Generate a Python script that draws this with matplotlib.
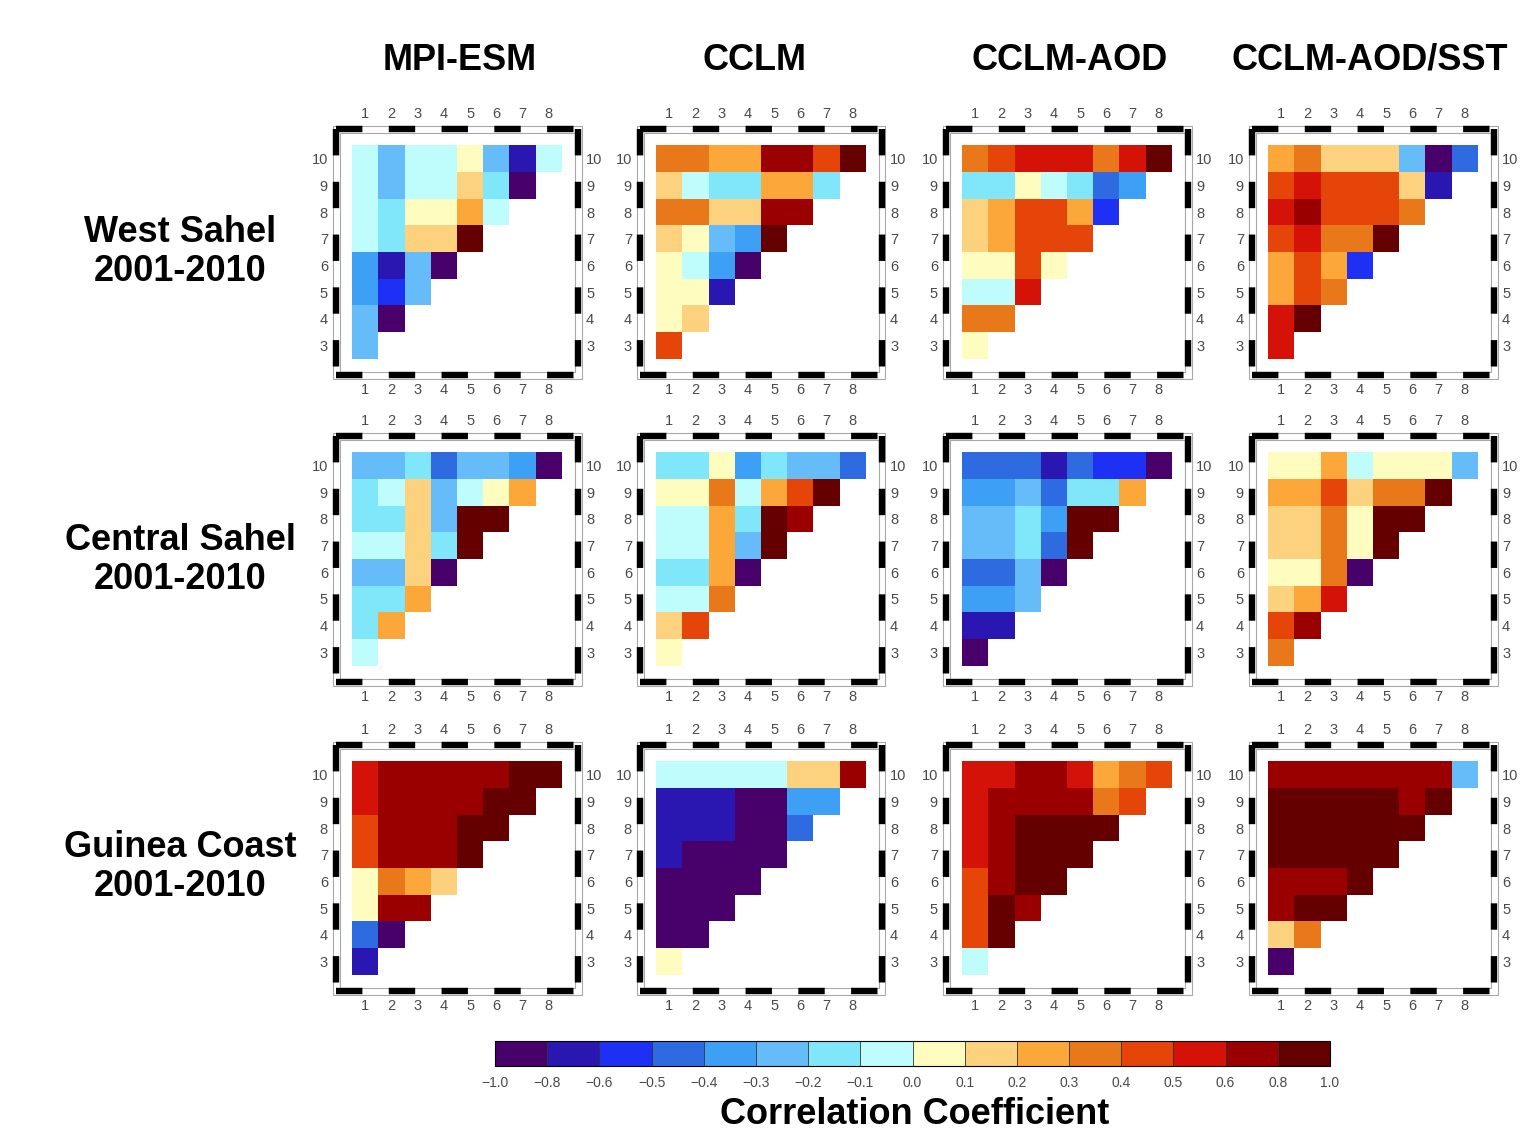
import matplotlib
matplotlib.use('Agg')
import matplotlib.pyplot as plt
import numpy as np
from matplotlib.colors import ListedColormap, BoundaryNorm
from matplotlib.cm import ScalarMappable
from matplotlib.lines import Line2D
from matplotlib.patches import Rectangle

plt.rcParams['font.family'] = ['Liberation Sans', 'DejaVu Sans']
plt.rcParams['lines.scale_dashes'] = False

W, H = 1533, 1143

models = ['MPI-ESM', 'CCLM', 'CCLM-AOD', 'CCLM-AOD/SST']
regions = ['West Sahel\n2001-2010', 'Central Sahel\n2001-2010', 'Guinea Coast\n2001-2010']
start_months = [1, 2, 3, 4, 5, 6, 7, 8]
end_months = [10, 9, 8, 7, 6, 5, 4, 3]   # order of the rows below

bounds = [-1.0, -0.8, -0.6, -0.5, -0.4, -0.3, -0.2, -0.1, 0.0,
          0.1, 0.2, 0.3, 0.4, 0.5, 0.6, 0.8, 1.0]
bound_labels = ['\u22121.0', '\u22120.8', '\u22120.6', '\u22120.5', '\u22120.4', '\u22120.3',
                '\u22120.2', '\u22120.1', '0.0', '0.1', '0.2', '0.3', '0.4', '0.5',
                '0.6', '0.8', '1.0']

# correlation estimates, one list per end month (10 .. 3), start month 1 .. n
ws_mpi = [[-0.05, -0.25, -0.05, -0.05, 0.05, -0.25, -0.7, -0.05],
          [-0.05, -0.25, -0.05, -0.05, 0.15, -0.15, -0.9],
          [-0.05, -0.15, 0.05, 0.05, 0.25, -0.05],
          [-0.05, -0.15, 0.15, 0.15, 0.9],
          [-0.35, -0.7, -0.25, -0.9],
          [-0.35, -0.55, -0.25],
          [-0.25, -0.9],
          [-0.25]]
ws_cclm = [[0.35, 0.35, 0.25, 0.25, 0.7, 0.7, 0.45, 0.9],
           [0.15, -0.05, -0.15, -0.15, 0.25, 0.25, -0.15],
           [0.35, 0.35, 0.15, 0.15, 0.7, 0.7],
           [0.15, 0.05, -0.25, -0.35, 0.9],
           [0.05, -0.05, -0.35, -0.9],
           [0.05, 0.05, -0.7],
           [0.05, 0.15],
           [0.45]]
ws_aod = [[0.35, 0.45, 0.55, 0.55, 0.55, 0.35, 0.55, 0.9],
          [-0.15, -0.15, 0.05, -0.05, -0.15, -0.45, -0.35],
          [0.15, 0.25, 0.45, 0.45, 0.25, -0.55],
          [0.15, 0.25, 0.45, 0.45, 0.45],
          [0.05, 0.05, 0.45, 0.05],
          [-0.05, -0.05, 0.55],
          [0.35, 0.35],
          [0.05]]
ws_sst = [[0.25, 0.35, 0.15, 0.15, 0.15, -0.25, -0.9, -0.45],
          [0.45, 0.55, 0.45, 0.45, 0.45, 0.15, -0.7],
          [0.55, 0.7, 0.45, 0.45, 0.45, 0.35],
          [0.45, 0.55, 0.35, 0.35, 0.9],
          [0.25, 0.45, 0.25, -0.55],
          [0.25, 0.45, 0.35],
          [0.55, 0.9],
          [0.55]]

cs_mpi = [[-0.25, -0.25, -0.15, -0.45, -0.25, -0.25, -0.35, -0.9],
          [-0.15, -0.05, 0.15, -0.25, -0.05, 0.05, 0.25],
          [-0.15, -0.15, 0.15, -0.25, 0.9, 0.9],
          [-0.05, -0.05, 0.15, -0.15, 0.9],
          [-0.25, -0.25, 0.15, -0.9],
          [-0.15, -0.15, 0.25],
          [-0.15, 0.25],
          [-0.05]]
cs_cclm = [[-0.15, -0.15, 0.05, -0.35, -0.15, -0.25, -0.25, -0.45],
           [0.05, 0.05, 0.35, -0.05, 0.25, 0.45, 0.9],
           [-0.05, -0.05, 0.25, -0.15, 0.9, 0.7],
           [-0.05, -0.05, 0.25, -0.25, 0.9],
           [-0.15, -0.15, 0.25, -0.9],
           [-0.05, -0.05, 0.35],
           [0.15, 0.45],
           [0.05]]
cs_aod = [[-0.45, -0.45, -0.45, -0.7, -0.45, -0.55, -0.55, -0.9],
          [-0.35, -0.35, -0.25, -0.45, -0.15, -0.15, 0.25],
          [-0.25, -0.25, -0.15, -0.35, 0.9, 0.9],
          [-0.25, -0.25, -0.15, -0.45, 0.9],
          [-0.45, -0.45, -0.25, -0.9],
          [-0.35, -0.35, -0.25],
          [-0.7, -0.7],
          [-0.9]]
cs_sst = [[0.05, 0.05, 0.25, -0.05, 0.05, 0.05, 0.05, -0.25],
          [0.25, 0.25, 0.45, 0.15, 0.35, 0.35, 0.9],
          [0.15, 0.15, 0.35, 0.05, 0.9, 0.9],
          [0.15, 0.15, 0.35, 0.05, 0.9],
          [0.05, 0.05, 0.35, -0.9],
          [0.15, 0.25, 0.55],
          [0.45, 0.7],
          [0.35]]

gc_mpi = [[0.55, 0.7, 0.7, 0.7, 0.7, 0.7, 0.9, 0.9],
          [0.55, 0.7, 0.7, 0.7, 0.7, 0.9, 0.9],
          [0.45, 0.7, 0.7, 0.7, 0.9, 0.9],
          [0.45, 0.7, 0.7, 0.7, 0.9],
          [0.05, 0.35, 0.25, 0.15],
          [0.05, 0.7, 0.7],
          [-0.45, -0.9],
          [-0.7]]
gc_cclm = [[-0.05, -0.05, -0.05, -0.05, -0.05, 0.15, 0.15, 0.7],
           [-0.7, -0.7, -0.7, -0.9, -0.9, -0.35, -0.35],
           [-0.7, -0.7, -0.7, -0.9, -0.9, -0.45],
           [-0.7, -0.9, -0.9, -0.9, -0.9],
           [-0.9, -0.9, -0.9, -0.9],
           [-0.9, -0.9, -0.9],
           [-0.9, -0.9],
           [0.05]]
gc_aod = [[0.55, 0.55, 0.7, 0.7, 0.55, 0.25, 0.35, 0.45],
          [0.55, 0.7, 0.7, 0.7, 0.7, 0.35, 0.45],
          [0.55, 0.7, 0.9, 0.9, 0.9, 0.9],
          [0.55, 0.7, 0.9, 0.9, 0.9],
          [0.45, 0.7, 0.9, 0.9],
          [0.45, 0.9, 0.7],
          [0.45, 0.9],
          [-0.05]]
gc_sst = [[0.7, 0.7, 0.7, 0.7, 0.7, 0.7, 0.7, -0.25],
          [0.9, 0.9, 0.9, 0.9, 0.9, 0.7, 0.9],
          [0.9, 0.9, 0.9, 0.9, 0.9, 0.9],
          [0.9, 0.9, 0.9, 0.9, 0.9],
          [0.7, 0.7, 0.7, 0.9],
          [0.7, 0.9, 0.9],
          [0.15, 0.35],
          [-0.9]]

panels = [[ws_mpi, ws_cclm, ws_aod, ws_sst],
          [cs_mpi, cs_cclm, cs_aod, cs_sst],
          [gc_mpi, gc_cclm, gc_aod, gc_sst]]

colors = ['#48006a', '#2a16b0', '#1f30f5', '#2f6be0', '#3ea0f5', '#66bcf8',
          '#80e6fa', '#bffcfc', '#fffcc0', '#fdd27e', '#fca73a', '#e8781a',
          '#e54508', '#d41208', '#9a0000', '#640000']
cmap = ListedColormap(colors)
norm = BoundaryNorm(bounds, cmap.N)

fig = plt.figure(figsize=(W / 100, H / 100), dpi=100)


def px_rect(left, top, w, h):
    return [left / W, 1 - (top + h) / H, w / W, h / H]


def fline(x0, y0, x1, y1, **kw):
    fig.add_artist(Line2D([x0 / W, x1 / W], [1 - y0 / H, 1 - y1 / H],
                          transform=fig.transFigure, **kw))


def draw_frame(left, top, w, h):
    # thin grey double outline with thick black dashes over it
    l, r, t, b = left - 3, left + w + 3, top - 3, top + h + 3
    for d in (-3.5, 3.5):
        fig.add_artist(Rectangle(((l - d) / W, 1 - (b + d) / H),
                                 (r - l + 2 * d) / W, (b - t + 2 * d) / H,
                                 transform=fig.transFigure, fill=False,
                                 ec='#a8a8a8', lw=0.8))
    dash = dict(color='black', lw=4.6, linestyle=(0, (19, 19)), dash_capstyle='butt')
    fline(l, t, r, t, **dash)
    fline(l, b, r, b, **dash)
    fline(l, t, l, b, **dash)
    fline(r, t, r, b, **dash)


col_left = [339, 643, 949, 1255]
row_top = [132, 439, 748]
pw, ph = 236, 240

x_edges = np.arange(0.5, 9.0, 1.0)
y_edges = np.arange(10.5, 2.0, -1.0)

for i, row in enumerate(panels):
    for j, vals in enumerate(row):
        ax = fig.add_axes(px_rect(col_left[j], row_top[i], pw, ph))
        grid = np.full((len(end_months), len(start_months)), np.nan)
        for r, rv in enumerate(vals):
            grid[r, :len(rv)] = rv
        ax.pcolormesh(x_edges, y_edges, np.ma.masked_invalid(grid), cmap=cmap, norm=norm)
        ax.set_xlim(0, 9)
        ax.set_ylim(2, 11)
        ax.set_xticks(start_months)
        ax.set_yticks(end_months)
        ax.tick_params(top=True, labeltop=True, right=True, labelright=True,
                       length=0, labelsize=10.5, labelcolor='#4a4a4a', pad=8)
        for s in ax.spines.values():
            s.set_visible(False)
        draw_frame(col_left[j], row_top[i], pw, ph)

# column and row titles
title_x = [460, 755, 1070, 1370]
for j, m in enumerate(models):
    fig.text(title_x[j] / W, 1 - 60 / H, m, ha='center', va='center',
             fontsize=26, fontweight='bold')

label_y = [252, 560, 867]
for i, rg in enumerate(regions):
    fig.text(180 / W, 1 - label_y[i] / H, rg, ha='center', va='center',
             fontsize=26, fontweight='bold', linespacing=1.15)

# colour bar
cax = fig.add_axes(px_rect(495, 1041, 835, 25))
cb = fig.colorbar(ScalarMappable(norm=norm, cmap=cmap), cax=cax, orientation='horizontal',
                  boundaries=bounds, ticks=bounds, spacing='uniform', drawedges=True)
cb.set_ticklabels(bound_labels)
cb.ax.tick_params(length=0, labelsize=10, labelcolor='#4a4a4a', pad=7)
cb.dividers.set_color('#333333')
cb.dividers.set_linewidth(0.6)
cb.outline.set_linewidth(0.8)
fig.text(915 / W, 1 - 1115 / H, 'Correlation Coefficient', ha='center', va='center',
         fontsize=26, fontweight='bold')

fig.savefig('out.png', dpi=100)
